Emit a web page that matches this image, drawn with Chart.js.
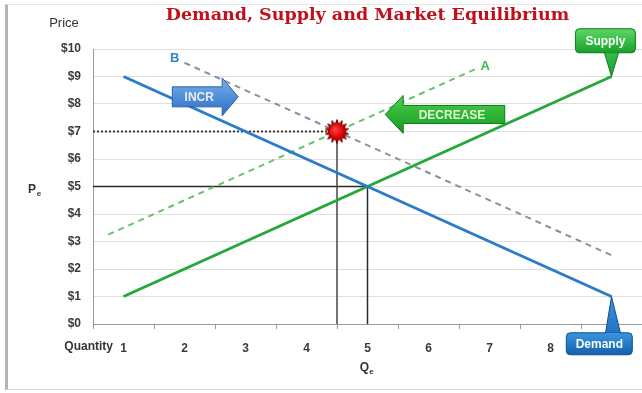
<!DOCTYPE html>
<html>
<head>
<meta charset="utf-8">
<script src="https://cdn.jsdelivr.net/npm/chart.js@4"></script>
<style>
  html, body { margin: 0; padding: 0; background: #fff; }
  #wrap { position: relative; width: 642px; height: 393px; overflow: hidden; }
  #frame { position: absolute; left: 5px; top: 4px; right: -2px; bottom: 3px;
           border-left: 3px solid #b5b5b5; border-top: 1px solid #e6e6e6; border-bottom: 1px solid #d6d6d6; }
  canvas { position: absolute; left: 0; top: 0; }
</style>
</head>
<body>
<div id="wrap"><div id="frame"></div><canvas id="chart" width="642" height="393"></canvas></div>
<script>
// Axis values
const quantityTicks = [1, 2, 3, 4, 5, 6, 7, 8, 9];
const priceTicks = [0, 1, 2, 3, 4, 5, 6, 7, 8, 9, 10];

// Curves: [quantity, price] end points
const demandCurve = [[1, 9], [9, 1]];
const supplyCurve = [[1, 1], [9, 9]];
const demandB = [[2, 9.5], [9, 2.5]];     // shifted demand (B)
const supplyA = [[0.75, 3.25], [6.8, 9.3]]; // shifted supply (A)

// Equilibrium points
const equilibrium = [5, 5];
const newEquilibrium = [4.5, 7];

const toXY = pts => pts.map(([q, p]) => ({ x: q, y: p }));

// Red starburst marker for the new equilibrium
function makeBurst() {
  const c = document.createElement('canvas');
  c.width = 26; c.height = 26;
  const g = c.getContext('2d');
  const cx = 13, cy = 13, spikes = 14, rOut = 12, rIn = 7.5;
  g.beginPath();
  for (let i = 0; i < spikes * 2; i++) {
    const r = i % 2 === 0 ? rOut : rIn;
    const a = Math.PI * i / spikes - Math.PI / 2;
    const px = cx + r * Math.cos(a), py = cy + r * Math.sin(a);
    i === 0 ? g.moveTo(px, py) : g.lineTo(px, py);
  }
  g.closePath();
  const grad = g.createRadialGradient(cx - 2, cy - 2, 1, cx, cy, rOut);
  grad.addColorStop(0, '#ff3a3a');
  grad.addColorStop(0.6, '#d40000');
  grad.addColorStop(1, '#8a0000');
  g.fillStyle = grad;
  g.fill();
  g.strokeStyle = '#7a0000';
  g.lineWidth = 1;
  g.stroke();
  return c;
}

// Helpers for annotation shapes
function roundRect(ctx, x, y, w, h, r) {
  ctx.beginPath();
  ctx.moveTo(x + r, y);
  ctx.lineTo(x + w - r, y); ctx.quadraticCurveTo(x + w, y, x + w, y + r);
  ctx.lineTo(x + w, y + h - r); ctx.quadraticCurveTo(x + w, y + h, x + w - r, y + h);
  ctx.lineTo(x + r, y + h); ctx.quadraticCurveTo(x, y + h, x, y + h - r);
  ctx.lineTo(x, y + r); ctx.quadraticCurveTo(x, y, x + r, y);
  ctx.closePath();
}

function blockArrow(ctx, tailX, tipX, cy, bodyHalf, headHalf, headLen, top, bottom, edge, label, textColor) {
  const dir = Math.sign(tipX - tailX);
  const neck = tipX - dir * headLen;
  ctx.save();
  ctx.beginPath();
  ctx.moveTo(tailX, cy - bodyHalf);
  ctx.lineTo(neck, cy - bodyHalf);
  ctx.lineTo(neck, cy - headHalf);
  ctx.lineTo(tipX, cy);
  ctx.lineTo(neck, cy + headHalf);
  ctx.lineTo(neck, cy + bodyHalf);
  ctx.lineTo(tailX, cy + bodyHalf);
  ctx.closePath();
  const grad = ctx.createLinearGradient(0, cy - headHalf, 0, cy + headHalf);
  grad.addColorStop(0, top);
  grad.addColorStop(1, bottom);
  ctx.fillStyle = grad;
  ctx.fill();
  ctx.strokeStyle = edge;
  ctx.lineWidth = 1;
  ctx.stroke();
  ctx.fillStyle = textColor;
  ctx.font = 'bold 12px "Liberation Sans", Arial, sans-serif';
  ctx.textAlign = 'center';
  ctx.textBaseline = 'middle';
  ctx.fillText(label, (tailX + neck) / 2 + dir * 2, cy + 1);
  ctx.restore();
}

function callout(ctx, cx, cy, w, h, tipX, tipY, baseL, baseR, top, bottom, edge, label) {
  ctx.save();
  const x0 = cx - w / 2, y0 = cy - h / 2;
  const baseY = tipY > cy ? y0 + h - 1 : y0 + 1;
  const grad = ctx.createLinearGradient(0, Math.min(y0, tipY), 0, Math.max(y0 + h, tipY));
  grad.addColorStop(0, top);
  grad.addColorStop(1, bottom);
  // tail
  ctx.beginPath();
  ctx.moveTo(baseL, baseY);
  ctx.lineTo(tipX, tipY);
  ctx.lineTo(baseR, baseY);
  ctx.closePath();
  ctx.fillStyle = grad;
  ctx.fill();
  ctx.strokeStyle = edge;
  ctx.lineWidth = 1;
  ctx.stroke();
  // box
  roundRect(ctx, x0, y0, w, h, 4);
  const g2 = ctx.createLinearGradient(0, y0, 0, y0 + h);
  g2.addColorStop(0, top);
  g2.addColorStop(1, bottom);
  ctx.fillStyle = g2;
  ctx.fill();
  ctx.stroke();
  // cover the seam between tail and box
  ctx.beginPath();
  ctx.moveTo(baseL + 1, baseY);
  ctx.lineTo(baseR - 1, baseY);
  ctx.strokeStyle = tipY > cy ? bottom : top;
  ctx.lineWidth = 2;
  ctx.stroke();
  ctx.fillStyle = '#f4fff4';
  ctx.font = 'bold 12px "Liberation Sans", Arial, sans-serif';
  ctx.textAlign = 'center';
  ctx.textBaseline = 'middle';
  ctx.fillText(label, cx, cy + 1);
  ctx.restore();
}

// Text and annotation overlay
const overlay = {
  id: 'overlay',
  afterDatasetsDraw(chart) {
    const { ctx, chartArea } = chart;
    const xs = chart.scales.x, ys = chart.scales.y;
    const X = v => xs.getPixelForValue(v), Y = v => ys.getPixelForValue(v);

    // x-axis tick marks sit between the category labels
    ctx.save();
    ctx.strokeStyle = '#9a9a9a';
    ctx.lineWidth = 1;
    for (let i = 0; i <= quantityTicks.length; i++) {
      const px = Math.round(X(quantityTicks[0] - 0.5 + i)) + 0.5;
      ctx.beginPath();
      ctx.moveTo(px, chartArea.bottom);
      ctx.lineTo(px, chartArea.bottom + 5);
      ctx.stroke();
    }
    ctx.restore();

    // Shift arrows
    blockArrow(ctx, X(1.8), X(2.88), Y(8.26), 10, 19, 16, '#78b2ee', '#2a6cc0', '#2a62a8', 'INCR', '#e6eefa');
    blockArrow(ctx, X(7.25), X(5.29), Y(7.62), 9, 19, 18, '#4fcf4f', '#129a1e', '#0e7a18', 'DECREASE', '#dcf7d4');

    // Curve callouts
    callout(ctx, X(8.9), Y(10.3), 60, 24, X(supplyCurve[1][0]), Y(supplyCurve[1][1]),
            X(8.88), X(9.12), '#5fd66a', '#18a02a', '#0f7a1c', 'Supply');
    callout(ctx, X(8.8), Y(-0.72), 66, 22, X(demandCurve[1][0]), Y(demandCurve[1][1]),
            X(8.9), X(9.15), '#3b95e0', '#135fae', '#0d4e91', 'Demand');

    // Shift letters
    ctx.save();
    ctx.font = 'bold 13px "Liberation Sans", Arial, sans-serif';
    ctx.textAlign = 'center';
    ctx.textBaseline = 'middle';
    ctx.fillStyle = '#2d86d0';
    ctx.fillText('B', X(1.84), Y(9.64));
    ctx.fillStyle = '#3cb94a';
    ctx.fillText('A', X(6.93), Y(9.38));
    ctx.restore();
  },
  afterDraw(chart) {
    const { ctx, chartArea } = chart;
    const xs = chart.scales.x, ys = chart.scales.y;
    ctx.save();
    // Title
    ctx.font = 'bold 17.5px "DejaVu Serif", serif';
    ctx.fillStyle = '#bf101b';
    ctx.textAlign = 'center';
    ctx.textBaseline = 'middle';
    ctx.fillText('Demand, Supply and Market Equilibrium', (chartArea.left + chartArea.right) / 2, 15);

    ctx.fillStyle = '#333';
    ctx.font = '13px "Liberation Sans", Arial, sans-serif';
    ctx.fillText('Price', 64, 23);

    ctx.font = 'bold 12px "Liberation Sans", Arial, sans-serif';
    ctx.textAlign = 'right';
    ctx.fillText('Quantity', 113, 347);

    // Pe and Qe
    ctx.textAlign = 'center';
    ctx.font = 'bold 12px "Liberation Sans", Arial, sans-serif';
    ctx.fillText('P', 32, ys.getPixelForValue(equilibrium[1]) + 3);
    ctx.fillText('Q', xs.getPixelForValue(equilibrium[0]) - 3, 368);
    ctx.font = 'bold 8px "Liberation Sans", Arial, sans-serif';
    ctx.fillText('e', 39, ys.getPixelForValue(equilibrium[1]) + 7);
    ctx.fillText('e', xs.getPixelForValue(equilibrium[0]) + 4, 372);
    ctx.restore();
  }
};

const lineDefaults = { pointRadius: 0, pointHoverRadius: 0, fill: false, tension: 0 };

new Chart(document.getElementById('chart'), {
  type: 'line',
  data: {
    datasets: [
      { ...lineDefaults, label: 'New equilibrium', data: [{ x: newEquilibrium[0], y: newEquilibrium[1] }],
        pointStyle: makeBurst(), pointRadius: 12, showLine: false, order: 0 },
      { ...lineDefaults, label: 'Demand', data: toXY(demandCurve), borderColor: '#2b7cc6', borderWidth: 3, order: 1 },
      { ...lineDefaults, label: 'Supply', data: toXY(supplyCurve), borderColor: '#25a83a', borderWidth: 3, order: 2 },
      { ...lineDefaults, label: 'B', data: toXY(demandB), borderColor: '#8791a3', borderWidth: 2, borderDash: [6, 5], order: 3 },
      { ...lineDefaults, label: 'A', data: toXY(supplyA), borderColor: '#62c46c', borderWidth: 2, borderDash: [6, 5], order: 4 },
      // Guide lines to the axes
      { ...lineDefaults, label: 'P7', data: [{ x: 0.5, y: newEquilibrium[1] }, { x: newEquilibrium[0], y: newEquilibrium[1] }],
        borderColor: '#3a3a3a', borderWidth: 2, borderDash: [2, 2], order: 5 },
      { ...lineDefaults, label: 'Q4.5', data: [{ x: newEquilibrium[0], y: newEquilibrium[1] }, { x: newEquilibrium[0], y: 0 }],
        borderColor: '#444', borderWidth: 1.5, order: 6 },
      { ...lineDefaults, label: 'P5', data: [{ x: 0.5, y: equilibrium[1] }, { x: equilibrium[0], y: equilibrium[1] }],
        borderColor: '#2a2a2a', borderWidth: 1.5, order: 7 },
      { ...lineDefaults, label: 'Q5', data: [{ x: equilibrium[0], y: equilibrium[1] }, { x: equilibrium[0], y: 0 }],
        borderColor: '#2a2a2a', borderWidth: 1.5, order: 8 }
    ]
  },
  options: {
    responsive: false,
    animation: false,
    layout: { autoPadding: false, padding: { top: 49, right: 0, left: 0, bottom: 0 } },
    plugins: { legend: { display: false }, tooltip: { enabled: false }, title: { display: false } },
    scales: {
      x: {
        type: 'linear',
        min: quantityTicks[0] - 0.5,
        max: quantityTicks[quantityTicks.length - 1] + 0.5,
        afterBuildTicks: s => { s.ticks = quantityTicks.map(v => ({ value: v })); },
        afterFit: s => { s.height = 69; s.paddingLeft = 0; s.paddingRight = 0; },
        grid: { display: false, drawTicks: false },
        border: { display: true, color: '#9a9a9a', width: 1 },
        ticks: { padding: 17, color: '#3a3a3a', font: { family: '"Liberation Sans", Arial, sans-serif', size: 12, weight: 'bold' },
                 callback: v => String(v), autoSkip: false, maxRotation: 0 }
      },
      y: {
        type: 'linear',
        min: priceTicks[0],
        max: priceTicks[priceTicks.length - 1],
        afterBuildTicks: s => { s.ticks = priceTicks.map(v => ({ value: v })); },
        afterFit: s => { s.width = 93; s.paddingTop = 0; s.paddingBottom = 0; },
        grid: { color: '#dedede', drawTicks: false },
        border: { display: true, color: '#9a9a9a', width: 1 },
        ticks: { padding: 12, color: '#3a3a3a', font: { family: '"Liberation Sans", Arial, sans-serif', size: 12, weight: 'bold' },
                 callback: v => '$' + v }
      }
    }
  },
  plugins: [overlay]
});
</script>
</body>
</html>
